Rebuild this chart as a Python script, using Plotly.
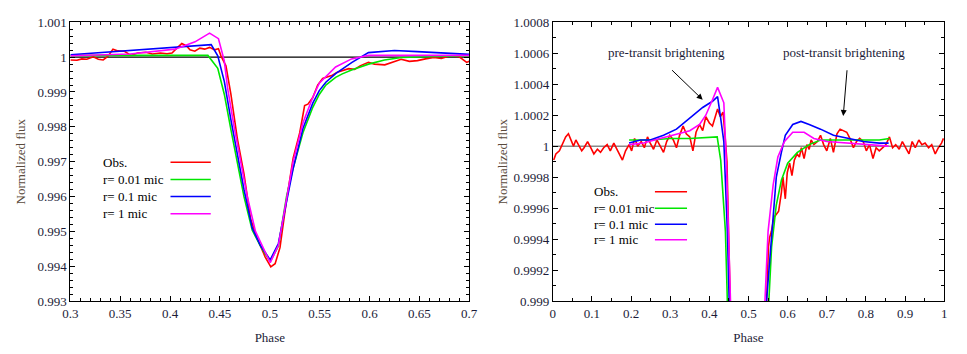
import plotly.graph_objects as go
from plotly.subplots import make_subplots

# ---------------- Left panel data (zoom on transit) ----------------
left_obs_x = [0.3, 0.3066, 0.3115, 0.3165, 0.323, 0.328, 0.3329, 0.3378, 0.3427, 0.3477, 0.3542, 0.3608,
              0.3674, 0.3756, 0.3822, 0.3903, 0.3969, 0.4019, 0.4068, 0.4117, 0.4166, 0.4199, 0.4248, 0.4298,
              0.4347, 0.4396, 0.4446, 0.4485, 0.4511, 0.456, 0.461, 0.4675, 0.4741, 0.4807, 0.4872, 0.4954,
              0.501, 0.5053, 0.5102, 0.5168, 0.5234, 0.53, 0.5349, 0.5382, 0.5431, 0.548, 0.553, 0.5579,
              0.5628, 0.5677, 0.5727, 0.5791, 0.585, 0.5905, 0.5989, 0.605, 0.6153, 0.622, 0.6317, 0.64,
              0.6481, 0.656, 0.6645, 0.672, 0.681, 0.69, 0.6974, 0.70]
left_obs_y = [0.99992, 0.99991, 0.99995, 0.99994, 1.00001, 0.99994, 0.99992, 1.00003, 1.00023, 1.00018,
              1.00017, 1.00005, 1.00012, 1.00014, 1.00009, 1.00012, 1.0001, 1.00012, 1.00026, 1.00039,
              1.00032, 1.00021, 1.00017, 1.00026, 1.00023, 1.00028, 1.00021, 1.00024, 1.00003, 0.99975,
              0.99893, 0.99765, 0.99665, 0.99536, 0.99481, 0.99426, 0.99398, 0.99407, 0.99453, 0.9959,
              0.9971, 0.99783, 0.99861, 0.99865, 0.99884, 0.9992, 0.99939, 0.99943, 0.99948, 0.99957,
              0.99962, 0.99967, 0.99965, 0.99975, 0.99985, 0.9998, 0.99978, 0.99985, 0.99994, 0.99988,
              0.9999, 0.99995, 0.99999, 0.99996, 1.00004, 1.00001, 0.99985, 0.99988]

left_g_x = [0.30, 0.35, 0.40, 0.4379, 0.4478, 0.4544, 0.461, 0.4675, 0.4741, 0.4823, 0.4905, 0.5004,
            0.5086, 0.5168, 0.5234, 0.5332, 0.5431, 0.5496, 0.5562, 0.566, 0.5727, 0.582, 0.599, 0.615,
            0.632, 0.6645, 0.70]
left_g_y = [1.00005, 1.00005, 1.00005, 1.00005, 0.99968, 0.99893, 0.99792, 0.99691, 0.996, 0.99504,
            0.99458, 0.99413, 0.99458, 0.996, 0.99682, 0.99783, 0.99856, 0.99893, 0.9992, 0.99942,
            0.99952, 0.99963, 0.9998, 0.99992, 0.99999, 1.00002, 1.00004]

left_b_x = [0.30, 0.35, 0.40, 0.4412, 0.4478, 0.4544, 0.461, 0.4675, 0.4741, 0.4823, 0.4905, 0.5004,
            0.5086, 0.5168, 0.5234, 0.5332, 0.5431, 0.5496, 0.5562, 0.566, 0.5824, 0.5989, 0.625, 0.648,
            0.665, 0.70]
left_b_y = [1.00007, 1.00017, 1.00027, 1.00036, 1.00004, 0.9993, 0.9982, 0.9972, 0.9962, 0.9951,
            0.9946, 0.99418, 0.99465, 0.99585, 0.9968, 0.99795, 0.99868, 0.99904, 0.99928, 0.99953,
            0.99985, 1.00013, 1.00019, 1.00016, 1.00013, 1.00008]

left_m_x = [0.30, 0.36, 0.405, 0.425, 0.4396, 0.4485, 0.4543, 0.4577, 0.4642, 0.4708, 0.4774, 0.4856,
            0.4938, 0.5004, 0.5086, 0.5168, 0.5234, 0.5332, 0.5431, 0.5496, 0.566, 0.582, 0.599, 0.70]
left_m_y = [1.00004, 1.00009, 1.00023, 1.00044, 1.00069, 1.00053, 0.9999, 0.9991, 0.998, 0.997, 0.996,
            0.995, 0.9945, 0.9941, 0.9946, 0.996, 0.997, 0.99811, 0.99885, 0.99925, 0.99972, 0.99995,
            1.00005, 1.00005]

# ---------------- Right panel data (full phase) ----------------
right_obs_x = [0.0025, 0.008, 0.017, 0.025, 0.033, 0.04, 0.047, 0.053, 0.059, 0.065, 0.074, 0.08, 0.089,
               0.097, 0.105, 0.114, 0.122, 0.13, 0.139, 0.147, 0.156, 0.164, 0.172, 0.178, 0.186, 0.195,
               0.2015, 0.209, 0.217, 0.226, 0.234, 0.242, 0.249, 0.2575, 0.266, 0.274, 0.283, 0.291,
               0.299, 0.308, 0.316, 0.324, 0.333, 0.341, 0.35, 0.358, 0.366, 0.375, 0.383, 0.391, 0.4,
               0.408, 0.415, 0.421, 0.428, 0.435, 0.44, 0.445, 0.455, 0.47, 0.5, 0.53, 0.545, 0.551,
               0.554, 0.5585, 0.565, 0.571, 0.577, 0.584, 0.588, 0.594, 0.599, 0.605, 0.611, 0.617,
               0.624, 0.63, 0.635, 0.642, 0.649, 0.655, 0.66, 0.667, 0.676, 0.684, 0.692, 0.7, 0.709,
               0.717, 0.726, 0.734, 0.742, 0.751, 0.759, 0.768, 0.776, 0.784, 0.793, 0.801, 0.809,
               0.818, 0.826, 0.834, 0.843, 0.851, 0.86, 0.868, 0.876, 0.885, 0.893, 0.901, 0.91, 0.918,
               0.926, 0.935, 0.943, 0.951, 0.96, 0.968, 0.977, 0.985, 0.993, 0.998]
right_obs_y = [0.99991, 0.99995, 0.99997, 1.00001, 1.00006, 1.00008, 1.00004, 1.0, 1.00004, 1.00001,
               0.99997, 0.99999, 1.00003, 0.99999, 0.99995, 0.99998, 0.99996, 0.99999, 1.00001,
               0.99997, 1.00002, 0.99998, 0.99994, 0.99991, 0.99997, 1.00001, 0.99997, 1.00005,
               1.0, 1.00003, 0.99999, 1.00006, 1.00002, 0.99998, 1.00004, 1.0, 0.99996, 1.00003,
               1.00007, 1.00004, 0.99999, 1.00007, 1.00013, 1.00008, 1.00006, 0.99997, 1.00009,
               1.00014, 1.0001, 1.00019, 1.00015, 1.00013, 1.00019, 1.00024, 1.00019, 1.00022,
               1.00007, 0.9999, 0.9988, 0.997, 0.994, 0.9978, 0.9989, 0.99935, 0.99941, 0.99945,
               0.99954, 0.99956, 0.99958, 0.9997, 0.9998, 0.99966, 0.99983, 0.99989, 0.99981,
               0.99991, 0.99995, 0.99993, 0.99999, 0.99992, 1.00001, 0.99998, 1.00004, 1.00001,
               1.00003, 1.00007, 1.00001, 0.99997, 1.00005, 0.99996, 1.00008, 1.00011, 1.0001,
               1.00009, 1.00005, 0.99999, 1.00003, 1.00005, 1.00003, 0.99997, 1.00001, 0.99992,
               0.99999, 0.99997, 0.99999, 1.00001, 1.00006, 0.99999, 1.00001, 0.99998, 1.00003,
               0.99999, 0.99995, 1.00003, 0.99999, 1.00004, 1.00001, 1.00002, 0.99999, 1.00001,
               0.99995, 0.99999, 1.00002, 1.00005]

right_g_x = [0.195, 0.25, 0.3, 0.35, 0.42, 0.429, 0.441, 0.45, 0.5, 0.552, 0.559, 0.571, 0.584, 0.6,
             0.625, 0.655, 0.684, 0.751, 0.834, 0.86]
right_g_y = [1.00004, 1.00004, 1.00005, 1.00005, 1.00006, 0.99991, 0.99945, 0.999, 0.9941, 0.999,
             0.99935, 0.99962, 0.99978, 0.99989, 0.99996, 1.00001, 1.00004, 1.00004, 1.00004, 1.00005]

right_b_x = [0.195, 0.224, 0.249, 0.283, 0.316, 0.35, 0.383, 0.408, 0.421, 0.429, 0.437, 0.446, 0.452,
             0.5, 0.546, 0.559, 0.571, 0.584, 0.594, 0.613, 0.634, 0.655, 0.684, 0.717, 0.751, 0.793,
             0.834, 0.858]
right_b_y = [1.00002, 1.00004, 1.00004, 1.00007, 1.00011, 1.00018, 1.00025, 1.00029, 1.00032, 1.00018,
             1.00003, 0.99945, 0.999, 0.9942, 0.999, 0.99945, 0.9998, 0.99996, 1.00007, 1.00014,
             1.00016, 1.00014, 1.00011, 1.00007, 1.00005, 1.00003, 1.00002, 1.00002]

right_m_x = [0.195, 0.232, 0.274, 0.316, 0.35, 0.375, 0.391, 0.408, 0.421, 0.437, 0.444, 0.454, 0.5,
             0.542, 0.55, 0.563, 0.575, 0.592, 0.613, 0.642, 0.667, 0.7, 0.751, 0.793, 0.858]
right_m_y = [1.00001, 1.00002, 1.00005, 1.00008, 1.0001, 1.00014, 1.0002, 1.0003, 1.00038, 1.00028,
             0.99986, 0.999, 0.9941, 0.999, 0.99945, 0.99975, 0.99993, 1.00003, 1.00009, 1.00009,
             1.00005, 1.00003, 1.00002, 1.00001, 1.0]

# ---------------- Tick labels ----------------
left_xticks = [0.3, 0.35, 0.4, 0.45, 0.5, 0.55, 0.6, 0.65, 0.7]
left_xlabels = ["0.3", "0.35", "0.4", "0.45", "0.5", "0.55", "0.6", "0.65", "0.7"]
left_yticks = [0.993, 0.994, 0.995, 0.996, 0.997, 0.998, 0.999, 1.0, 1.001]
left_ylabels = ["0.993", "0.994", "0.995", "0.996", "0.997", "0.998", "0.999", "1", "1.001"]
right_xticks = [0, 0.1, 0.2, 0.3, 0.4, 0.5, 0.6, 0.7, 0.8, 0.9, 1.0]
right_xlabels = ["0", "0.1", "0.2", "0.3", "0.4", "0.5", "0.6", "0.7", "0.8", "0.9", "1"]
right_yticks = [0.999, 0.9992, 0.9994, 0.9996, 0.9998, 1.0, 1.0002, 1.0004, 1.0006, 1.0008]
right_ylabels = ["0.999", "0.9992", "0.9994", "0.9996", "0.9998", "1", "1.0002", "1.0004", "1.0006", "1.0008"]

series_names = ["Obs.", "r= 0.01 mic", "r= 0.1 mic", "r= 1 mic"]
series_colors = ["#ff0000", "#00e600", "#0000ff", "#ff00ff"]

FONT = "Liberation Serif, Times New Roman, serif"
TICKCOL = "#1c1c38"
TITLECOL = "#5a4a3c"
FS = 13
LFS = 13

fig = make_subplots(rows=1, cols=2)

left_sets = [(left_obs_x, left_obs_y), (left_g_x, left_g_y), (left_b_x, left_b_y), (left_m_x, left_m_y)]
right_sets = [(right_obs_x, right_obs_y), (right_g_x, right_g_y), (right_b_x, right_b_y), (right_m_x, right_m_y)]

for i, (xs, ys) in enumerate(left_sets):
    fig.add_trace(go.Scatter(x=xs, y=ys, mode="lines", name=series_names[i],
                             line=dict(color=series_colors[i], width=1.6), showlegend=False), row=1, col=1)
for i, (xs, ys) in enumerate(right_sets):
    fig.add_trace(go.Scatter(x=xs, y=ys, mode="lines", name=series_names[i],
                             line=dict(color=series_colors[i], width=1.6), showlegend=False), row=1, col=2)

# reference lines at unity
fig.add_shape(type="line", xref="x domain", yref="y", x0=0, x1=1, y0=1.0, y1=1.0,
              line=dict(color="black", width=1.2), layer="below")
fig.add_shape(type="line", xref="x2 domain", yref="y2", x0=0, x1=1, y0=1.0, y1=1.0,
              line=dict(color="#888888", width=1.5), layer="below")

# manual gnuplot-style legends (text then line sample)
left_leg_rows = [0.498, 0.436, 0.375, 0.313]
right_leg_rows = [0.392, 0.333, 0.275, 0.220]
for i in range(4):
    fig.add_annotation(xref="x domain", yref="y domain", x=0.076, y=left_leg_rows[i], text=series_names[i],
                       showarrow=False, xanchor="left", yanchor="middle",
                       font=dict(family=FONT, size=LFS, color="black"))
    fig.add_shape(type="line", xref="x domain", yref="y domain", x0=0.251, x1=0.352,
                  y0=left_leg_rows[i], y1=left_leg_rows[i], line=dict(color=series_colors[i], width=1.5))
    fig.add_annotation(xref="x2 domain", yref="y2 domain", x=0.100, y=right_leg_rows[i], text=series_names[i],
                       showarrow=False, xanchor="left", yanchor="middle",
                       font=dict(family=FONT, size=LFS, color="black"))
    fig.add_shape(type="line", xref="x2 domain", yref="y2 domain", x0=0.261, x1=0.343,
                  y0=right_leg_rows[i], y1=right_leg_rows[i], line=dict(color=series_colors[i], width=1.5))

# annotations with arrows on the right panel
fig.add_annotation(xref="x2", yref="y2", x=0.291, y=1.000605, text="pre-transit brightening",
                   showarrow=False, font=dict(family=FONT, size=FS, color=TICKCOL))
fig.add_annotation(xref="x2", yref="y2", x=0.745, y=1.000605, text="post-transit brightening",
                   showarrow=False, font=dict(family=FONT, size=FS, color=TICKCOL))
fig.add_annotation(xref="x2", yref="y2", axref="x2", ayref="y2", x=0.383, y=1.0003, ax=0.301, ay=1.0005,
                   text="", showarrow=True, arrowhead=2, arrowsize=1.2, arrowwidth=1, arrowcolor="black")
fig.add_annotation(xref="x2", yref="y2", axref="x2", ayref="y2", x=0.742, y=1.000195, ax=0.752, ay=1.0005,
                   text="", showarrow=True, arrowhead=2, arrowsize=1.2, arrowwidth=1, arrowcolor="black")

axis_common = dict(showline=True, linecolor="black", linewidth=1, mirror="allticks", ticks="inside",
                   ticklen=5, tickcolor="black", showgrid=False, zeroline=False,
                   tickfont=dict(family=FONT, size=FS, color=TICKCOL))

fig.update_xaxes(**axis_common)
fig.update_yaxes(**axis_common)

fig.update_layout(
    font=dict(family=FONT, size=FS),
    xaxis=dict(domain=[63.5 / 967, 469.5 / 967], range=[0.3, 0.7], tickvals=left_xticks, ticktext=left_xlabels,
               minor=dict(dtick=0.01, tick0=0.3, ticks="inside", ticklen=3, tickcolor="black"),
               title=dict(text="Phase", standoff=13, font=dict(family=FONT, size=FS, color=TICKCOL))),
    yaxis=dict(domain=[1 - 307 / 354, 1 - 16 / 354], range=[0.993, 1.001], tickvals=left_yticks,
               ticktext=left_ylabels,
               minor=dict(dtick=0.0002, tick0=0.993, ticks="inside", ticklen=3, tickcolor="black"),
               title=dict(text="Normalized flux", standoff=8, font=dict(family=FONT, size=FS, color=TITLECOL))),
    xaxis2=dict(domain=[554.5 / 967, 953 / 967], range=[0, 1], tickvals=right_xticks, ticktext=right_xlabels,
                minor=dict(dtick=0.05, tick0=0, ticks="inside", ticklen=3, tickcolor="black"),
                title=dict(text="Phase", standoff=13, font=dict(family=FONT, size=FS, color=TICKCOL))),
    yaxis2=dict(domain=[1 - 307 / 354, 1 - 16 / 354], range=[0.999, 1.0008], tickvals=right_yticks,
                ticktext=right_ylabels,
                minor=dict(dtick=0.0001, tick0=0.999, ticks="inside", ticklen=3, tickcolor="black"),
                title=dict(text="Normalized flux", standoff=2, font=dict(family=FONT, size=FS, color=TITLECOL))),
    width=967, height=354, margin=dict(l=0, r=0, t=0, b=0),
    paper_bgcolor="white", plot_bgcolor="white", showlegend=False,
)

fig.write_html("out.html")
